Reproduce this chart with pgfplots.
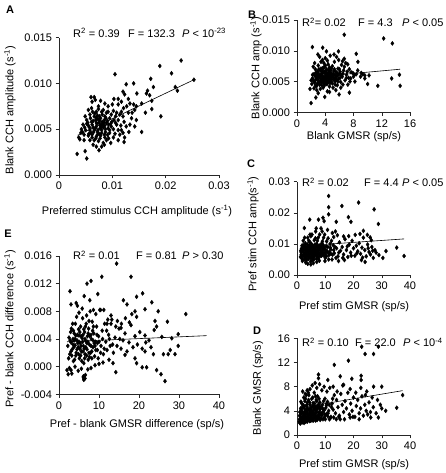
\documentclass[border=0pt]{standalone}
\usepackage{fontspec}
\setmainfont{Liberation Sans}
\usepackage{pgfplots}
\pgfplotsset{compat=1.18}
\pgfplotsset{
  panel/.style={
    scale only axis,
    axis lines=left,
    axis line style={-, black!85, line width=0.5pt},
    tick style={black!85, line width=0.5pt},
    tick align=outside,
    major tick length=3.5pt,
    scaled ticks=false,
    font=\fontsize{11}{13}\selectfont,
    ticklabel style={font=\fontsize{11}{13}\selectfont},
    /pgf/number format/assume math mode=true,
    clip=false,
  },
  pts/.style={only marks, mark=diamond*, mark size=2.05pt, black},
  fit/.style={no marks, black, line width=0.6pt},
}
\newcommand{\fs}{\fontsize{11}{13}\selectfont}
\begin{document}
\begin{tikzpicture}
\path[use as bounding box] (0pt,0pt) rectangle (445pt,473pt);

% ---------------- Panel A ----------------
\begin{axis}[panel, at={(59pt,298pt)}, anchor=south west,
  width=160pt, height=137.4pt,
  xmin=0, xmax=0.03, ymin=0, ymax=0.015,
  xtick={0,0.01,0.02,0.03}, xticklabels={0,0.01,0.02,0.03},
  ytick={0,0.005,0.01,0.015}, yticklabels={0.000,0.005,0.010,0.015}]
\addplot[pts] coordinates {
(0.0229,0.0125)(0.0189,0.0119)(0.0211,0.0111)(0.0105,0.0110)(0.0253,0.0104)
(0.0172,0.0105)(0.0140,0.0100)(0.0126,0.0099)(0.0177,0.0096)(0.0218,0.0096)
(0.0222,0.0092)(0.0166,0.0092)(0.0120,0.0091)(0.0146,0.0089)(0.0164,0.0089)
(0.0170,0.0087)(0.0174,0.0081)(0.0123,0.0088)(0.0111,0.0083)(0.0155,0.0078)
(0.0191,0.0064)(0.0155,0.0047)(0.0174,0.0072)(0.0162,0.0068)(0.0137,0.0068)
(0.0145,0.0075)(0.0133,0.0078)(0.0140,0.0077)(0.0130,0.0083)(0.0117,0.0080)
(0.0127,0.0075)(0.0121,0.0073)(0.0136,0.0062)(0.0145,0.0060)(0.0122,0.0058)
(0.0126,0.0053)(0.0123,0.0041)(0.0122,0.0036)(0.0133,0.0055)
(0.0060,0.0085)(0.0066,0.0085)(0.0068,0.0082)(0.0062,0.0080)(0.0078,0.0081)
(0.0086,0.0078)(0.0092,0.0075)(0.0100,0.0077)(0.0103,0.0083)(0.0111,0.0077)
(0.0074,0.0075)(0.0055,0.0071)(0.0061,0.0073)(0.0070,0.0069)(0.0083,0.0071)
(0.0092,0.0069)(0.0102,0.0070)(0.0108,0.0068)(0.0114,0.0066)
(0.0049,0.0064)(0.0058,0.0066)(0.0066,0.0064)(0.0072,0.0065)(0.0078,0.0062)
(0.0086,0.0064)(0.0095,0.0062)(0.0103,0.0060)(0.0111,0.0060)(0.0052,0.0060)
(0.0061,0.0058)(0.0069,0.0060)(0.0075,0.0057)(0.0081,0.0058)(0.0089,0.0057)
(0.0097,0.0056)(0.0108,0.0055)(0.0116,0.0054)(0.0045,0.0055)(0.0055,0.0054)
(0.0062,0.0055)(0.0070,0.0053)(0.0077,0.0054)(0.0083,0.0052)(0.0092,0.0051)
(0.0102,0.0050)(0.0111,0.0049)(0.0042,0.0050)(0.0050,0.0049)(0.0058,0.0049)
(0.0066,0.0049)(0.0072,0.0047)(0.0080,0.0049)(0.0087,0.0047)(0.0095,0.0046)
(0.0105,0.0045)(0.0114,0.0044)(0.0041,0.0046)(0.0047,0.0044)(0.0055,0.0043)
(0.0062,0.0044)(0.0070,0.0042)(0.0078,0.0043)(0.0086,0.0041)(0.0093,0.0040)
(0.0102,0.0041)(0.0037,0.0041)(0.0039,0.0039)(0.0058,0.0038)(0.0066,0.0038)
(0.0074,0.0037)(0.0083,0.0035)(0.0089,0.0038)(0.0064,0.0033)(0.0080,0.0031)
(0.0085,0.0033)(0.0075,0.0027)(0.0052,0.0018)(0.0049,0.0026)(0.0034,0.0023)
(0.0073,0.0061)(0.0079,0.0055)(0.0085,0.0060)(0.0077,0.0051)(0.0070,0.0057)
(0.0064,0.0052)(0.0086,0.0054)(0.0091,0.0059)(0.0098,0.0053)(0.0106,0.0057)
(0.0067,0.0067)(0.0080,0.0069)(0.0089,0.0068)(0.0054,0.0057)(0.0060,0.0046)
(0.0075,0.0045)(0.0091,0.0044)(0.0117,0.0049)(0.0120,0.0046)(0.0111,0.0038)
(0.0097,0.0035)(0.0070,0.0031)(0.0062,0.0041)(0.0047,0.0038)(0.0130,0.0068)
(0.0142,0.0071)(0.0117,0.0069)(0.0098,0.0066)(0.0106,0.0064)(0.0131,0.0047)
(0.0142,0.0053)(0.0120,0.0064)
(0.0071,0.0056)(0.0076,0.0059)(0.0082,0.0055)(0.0068,0.0051)(0.0073,0.0049)
(0.0079,0.0052)(0.0084,0.0057)(0.0088,0.0062)(0.0064,0.0059)(0.0059,0.0062)
(0.0070,0.0063)(0.0076,0.0064)(0.0081,0.0066)(0.0065,0.0047)(0.0072,0.0044)
(0.0080,0.0046)(0.0087,0.0050)(0.0093,0.0055)(0.0057,0.0052)(0.0052,0.0056)
(0.0048,0.0052)(0.0044,0.0047)(0.0056,0.0045)(0.0069,0.0040)(0.0077,0.0040)
(0.0085,0.0044)(0.0095,0.0049)(0.0099,0.0058)(0.0074,0.0072)(0.0063,0.0069)
};
\addplot[fit] coordinates {(0.0035,0.00434) (0.0253,0.0104)};
\end{axis}

% ---------------- Panel B ----------------
\begin{axis}[panel, at={(297pt,360.7pt)}, anchor=south west,
  width=113pt, height=92.3pt,
  xmin=0, xmax=16, ymin=0, ymax=0.015,
  xtick={0,4,8,12,16}, xticklabels={0,4,8,12,16},
  ytick={0,0.005,0.01,0.015}, yticklabels={0.000,0.005,0.010,0.015}]
\addplot[pts] coordinates {
(6.69,0.0126)(12.27,0.0120)(13.5,0.0112)(2.18,0.0106)(3.64,0.0105)(4.17,0.0099)
(5.87,0.0099)(5.24,0.0094)(2.96,0.0094)(8.39,0.0095)(6.69,0.0087)(6.45,0.0083)
(7.18,0.0078)(8.63,0.0082)(7.66,0.0065)(8.15,0.0061)(9.6,0.0060)(10.0,0.0046)
(11.44,0.0043)(13.4,0.0055)(14.5,0.0061)(14.6,0.0043)(1.99,0.0015)(2.67,0.0024)
(3.93,0.0025)(5.96,0.0029)(7.42,0.0032)(1.84,0.0038)
(2.2,0.0055)(2.4,0.0062)(2.5,0.0048)(2.6,0.0070)(2.7,0.0058)(2.8,0.0043)(2.9,0.0066)
(3.0,0.0052)(3.0,0.0076)(3.1,0.0060)(3.2,0.0045)(3.3,0.0068)(3.4,0.0055)(3.4,0.0082)
(3.5,0.0049)(3.6,0.0063)(3.7,0.0072)(3.7,0.0040)(3.8,0.0057)(3.9,0.0066)(4.0,0.0051)
(4.0,0.0088)(4.1,0.0061)(4.2,0.0046)(4.2,0.0070)(4.3,0.0056)(4.4,0.0078)(4.5,0.0050)
(4.5,0.0064)(4.6,0.0042)(4.7,0.0059)(4.8,0.0069)(4.9,0.0053)(5.0,0.0075)(5.0,0.0047)
(5.1,0.0062)(5.2,0.0056)(5.3,0.0082)(5.4,0.0050)(5.5,0.0066)(5.6,0.0058)(5.7,0.0044)
(5.8,0.0071)(5.9,0.0054)(6.0,0.0063)(6.2,0.0049)(6.3,0.0077)(6.4,0.0058)(6.6,0.0068)
(6.8,0.0052)(7.0,0.0061)(7.2,0.0045)(7.4,0.0070)(7.6,0.0055)(7.9,0.0064)(8.2,0.0050)
(8.6,0.0068)(9.0,0.0058)(9.3,0.0062)(2.3,0.0074)(2.5,0.0080)(2.6,0.0052)(2.8,0.0036)
(3.0,0.0064)(3.2,0.0090)(3.3,0.0038)(3.5,0.0059)(3.6,0.0085)(3.8,0.0047)(3.9,0.0074)
(4.1,0.0054)(4.3,0.0034)(4.4,0.0062)(4.6,0.0073)(4.7,0.0048)(4.8,0.0057)(5.1,0.0040)
(5.2,0.0067)(5.4,0.0060)(5.6,0.0090)(5.8,0.0050)(6.1,0.0056)(6.5,0.0045)(6.7,0.0074)
(7.1,0.0066)(7.5,0.0050)(8.0,0.0058)(2.1,0.0046)(2.4,0.0039)(2.7,0.0065)(3.1,0.0048)
(3.4,0.0071)(3.6,0.0053)(3.9,0.0044)(4.0,0.0059)(4.2,0.0065)(4.5,0.0055)(4.9,0.0061)
(5.3,0.0052)(5.7,0.0063)(6.0,0.0070)(6.3,0.0060)(3.3,0.0061)(3.7,0.0057)(4.4,0.0051)
(4.8,0.0064)(5.5,0.0056)(2.9,0.0057)(3.5,0.0067)(4.1,0.0068)(4.6,0.0060)(5.0,0.0058)
(2.2,0.0061)(3.8,0.0080)(4.3,0.0084)(4.7,0.0092)(5.9,0.0085)(6.9,0.0080)(7.3,0.0056)
(8.4,0.0062)(9.1,0.0064)(9.6,0.0055)(10.2,0.0060)(2.0,0.0052)(6.2,0.0040)(5.5,0.0036)
(3.0,0.0031)(4.6,0.0033)
(3.2,0.0058)(3.5,0.0062)(3.9,0.0055)(4.2,0.0059)(4.6,0.0066)(3.1,0.0070)(3.6,0.0071)
(4.0,0.0064)(4.4,0.0057)(4.8,0.0050)(3.3,0.0050)(2.7,0.0054)(2.5,0.0060)(3.8,0.0051)
(4.3,0.0047)(5.2,0.0062)(5.6,0.0053)(6.1,0.0066)(2.9,0.0047)(3.5,0.0044)(4.0,0.0076)
(4.9,0.0072)(5.3,0.0070)(2.3,0.0051)(2.6,0.0043)(3.7,0.0066)(4.5,0.0069)(5.8,0.0060)
(6.5,0.0063)(7.0,0.0056)(3.0,0.0058)(4.1,0.0049)(5.4,0.0045)(2.8,0.0062)(3.4,0.0053)
(4.7,0.0054)
};
\addplot[fit] coordinates {(2.0,0.00569) (14.6,0.0070)};
\end{axis}

% ---------------- Panel C ----------------
\begin{axis}[panel, at={(297pt,198pt)}, anchor=south west,
  width=113pt, height=93.3pt,
  xmin=0, xmax=40, ymin=0, ymax=0.03,
  xtick={0,10,20,30,40}, xticklabels={0,10,20,30,40},
  ytick={0,0.01,0.02,0.03}, yticklabels={0.00,0.01,0.02,0.03}]
\addplot[pts] coordinates {
(11.2,0.0254)(11.2,0.0218)(11.2,0.0195)(21.8,0.0233)(15.9,0.0222)(27.3,0.0211)
(18.2,0.0186)(19.1,0.0171)(13.9,0.0171)(28.8,0.0164)(4.5,0.0178)(2.6,0.0151)
(7.6,0.0178)(9.2,0.0184)(9.6,0.0173)(23.5,0.0142)(24.9,0.0129)(25.9,0.0121)
(20.6,0.0129)(16.5,0.0124)(31.5,0.0077)(35.3,0.0088)(37.9,0.0061)(30.4,0.0055)
(27.6,0.0080)(24.1,0.0042)(14.7,0.0045)(4.9,0.0034)
(1.5,0.0072)(1.8,0.0095)(2.0,0.0060)(2.2,0.0110)(2.4,0.0082)(2.6,0.0050)(2.8,0.0068)
(3.0,0.0102)(3.1,0.0040)(3.3,0.0088)(3.5,0.0075)(3.6,0.0060)(3.8,0.0120)(4.0,0.0092)
(4.1,0.0052)(4.3,0.0080)(4.5,0.0068)(4.6,0.0105)(4.8,0.0043)(5.0,0.0086)(5.2,0.0072)
(5.3,0.0130)(5.5,0.0061)(5.6,0.0095)(5.8,0.0078)(6.0,0.0050)(6.1,0.0112)(6.3,0.0085)
(6.5,0.0066)(6.6,0.0140)(6.8,0.0074)(7.0,0.0100)(7.1,0.0057)(7.3,0.0089)(7.5,0.0120)
(7.7,0.0068)(7.9,0.0046)(8.1,0.0095)(8.3,0.0079)(8.5,0.0150)(8.7,0.0062)(9.0,0.0108)
(9.2,0.0084)(9.5,0.0072)(9.8,0.0130)(10.0,0.0055)(10.3,0.0092)(10.6,0.0077)(11.0,0.0118)
(11.3,0.0064)(11.7,0.0100)(12.0,0.0082)(12.4,0.0050)(12.8,0.0096)(13.2,0.0070)
(13.6,0.0140)(14.0,0.0086)(14.5,0.0060)(15.0,0.0105)(15.4,0.0078)(16.0,0.0090)
(16.5,0.0066)(17.0,0.0115)(17.5,0.0080)(18.0,0.0058)(18.5,0.0098)(19.0,0.0072)
(19.5,0.0110)(20.0,0.0086)(20.5,0.0062)(21.0,0.0094)(21.5,0.0076)(22.0,0.0102)
(22.5,0.0068)(23.0,0.0088)(23.5,0.0120)(24.0,0.0080)(24.5,0.0060)(25.0,0.0098)
(25.5,0.0074)(26.0,0.0066)(26.5,0.0090)(27.0,0.0055)(28.0,0.0072)(29.0,0.0064)
(1.2,0.0058)(1.6,0.0085)(2.1,0.0078)(2.5,0.0095)(2.9,0.0058)(3.2,0.0072)(3.4,0.0048)
(3.7,0.0098)(3.9,0.0066)(4.2,0.0110)(4.4,0.0058)(4.7,0.0090)(4.9,0.0076)(5.1,0.0100)
(5.4,0.0048)(5.7,0.0070)(5.9,0.0088)(6.2,0.0062)(6.4,0.0098)(6.7,0.0080)(6.9,0.0052)
(7.2,0.0110)(7.4,0.0076)(7.6,0.0092)(7.8,0.0060)(8.0,0.0130)(8.2,0.0070)(8.4,0.0088)
(8.8,0.0102)(9.1,0.0066)(9.4,0.0120)(9.7,0.0082)(10.1,0.0070)(10.5,0.0108)(10.9,0.0090)
(11.5,0.0074)(12.2,0.0110)(12.6,0.0065)(13.0,0.0122)(13.4,0.0090)(2.3,0.0066)
(2.7,0.0120)(3.6,0.0084)(4.9,0.0125)(5.6,0.0066)(6.5,0.0118)(7.5,0.0082)(8.6,0.0075)
(9.3,0.0095)(10.4,0.0060)(11.8,0.0088)(14.8,0.0072)(16.2,0.0055)(17.8,0.0092)
(19.2,0.0062)(21.2,0.0070)(23.2,0.0056)(25.2,0.0086)(26.8,0.0078)(1.9,0.0045)
(3.8,0.0036)(5.8,0.0038)(7.0,0.0042)(9.9,0.0045)(11.2,0.0050)(13.8,0.0055)
(16.8,0.0048)(22.8,0.0048)(4.6,0.0130)(6.8,0.0150)(8.9,0.0140)(10.8,0.0145)
(12.5,0.0135)(14.3,0.0128)(18.3,0.0125)(22.3,0.0132)(26.3,0.0112)
(2.0,0.0085)(2.5,0.0072)(3.0,0.0080)(3.5,0.0065)(4.0,0.0075)(4.5,0.0082)(5.0,0.0065)
(5.5,0.0078)(6.0,0.0088)(6.5,0.0072)(7.0,0.0064)(7.5,0.0072)(8.0,0.0085)(8.5,0.0068)
(9.0,0.0078)(9.5,0.0088)(1.5,0.0065)(2.2,0.0095)(2.8,0.0090)(3.3,0.0058)(3.9,0.0078)
(4.4,0.0095)(5.2,0.0090)(5.9,0.0058)(6.3,0.0076)(6.9,0.0092)(7.3,0.0070)(8.6,0.0092)
(9.6,0.0062)(10.2,0.0080)(1.3,0.0078)(1.8,0.0052)(2.6,0.0060)(3.2,0.0052)(4.1,0.0062)
(4.8,0.0056)(5.3,0.0055)(6.1,0.0068)(7.6,0.0052)(8.2,0.0062)(11.0,0.0072)(12.0,0.0068)
(13.0,0.0080)
};
\addplot[fit] coordinates {(1.0,0.0093) (37.9,0.0116)};
\end{axis}

% ---------------- Panel D ----------------
\begin{axis}[panel, at={(297pt,38pt)}, anchor=south west,
  width=113pt, height=96.7pt,
  xmin=0, xmax=40, ymin=0, ymax=16,
  xtick={0,10,20,30,40}, xticklabels={0,10,20,30,40},
  ytick={0,4,8,12,16}, yticklabels={0,4,8,12,16}]
\addplot[pts] coordinates {
(22.9,14.6)(24.1,13.4)(27.1,13.4)(28.8,14.6)(18.2,12.3)(13.2,11.6)(7.6,10.0)(7.6,9.4)
(22.7,9.8)(22.7,9.1)(19.4,9.3)(15.3,9.7)(10.9,9.1)(16.5,8.3)(27.1,8.0)(30,8.0)
(24.7,7.2)(37.4,6.6)(35.3,4.5)(31.4,4.0)(28.8,2.9)(26.1,2.9)(18.8,2.9)(15.3,2.6)
(13.9,2.6)(7.1,2.5)
(1.0,2.0)(1.2,3.0)(1.4,2.4)(1.5,4.2)(1.7,2.8)(1.8,3.6)(2.0,2.1)(2.1,5.0)(2.3,3.2)
(2.4,2.6)(2.6,4.4)(2.7,3.8)(2.9,2.2)(3.0,6.0)(3.1,3.0)(3.3,4.8)(3.4,2.5)(3.6,3.6)
(3.7,5.4)(3.9,2.8)(4.0,4.1)(4.2,6.6)(4.3,3.3)(4.5,2.3)(4.6,5.0)(4.8,3.9)(4.9,2.9)
(5.1,4.5)(5.2,6.0)(5.4,3.4)(5.5,2.6)(5.7,5.3)(5.8,4.0)(6.0,3.0)(6.1,7.0)(6.3,4.6)
(6.4,3.6)(6.6,2.4)(6.8,5.8)(6.9,4.2)(7.1,3.2)(7.3,6.4)(7.5,4.9)(7.7,3.7)(7.9,2.8)
(8.1,5.4)(8.3,4.3)(8.6,3.4)(8.8,7.4)(9.0,5.0)(9.3,3.9)(9.6,2.9)(9.9,6.0)(10.2,4.5)
(10.5,3.5)(10.8,5.5)(11.2,4.0)(11.6,7.8)(12.0,3.0)(12.4,5.2)(12.8,4.2)(13.2,6.6)
(13.6,3.6)(14.0,5.8)(14.5,4.6)(15.0,3.2)(15.5,6.8)(16.0,5.0)(16.5,3.8)(17.0,5.6)
(17.5,4.4)(18.0,7.0)(18.5,3.4)(19.0,5.2)(19.5,4.0)(20.0,6.2)(20.5,3.0)(21.0,4.8)
(21.5,5.8)(22.0,3.6)(22.5,4.4)(23.0,6.4)(23.5,3.2)(24.0,5.0)(24.5,4.0)(25.0,3.4)
(25.5,5.4)(26.0,3.8)(27.0,4.6)(28.0,3.6)(29.5,5.0)
(1.1,2.6)(1.3,3.5)(1.6,2.2)(1.9,4.6)(2.2,2.9)(2.5,3.5)(2.8,5.6)(3.2,2.3)(3.5,4.2)
(3.8,3.2)(4.1,5.8)(4.4,2.7)(4.7,4.4)(5.0,3.6)(5.3,2.4)(5.6,4.8)(5.9,3.3)(6.2,5.2)
(6.5,2.9)(6.7,4.0)(7.0,5.6)(7.2,2.6)(7.4,4.4)(7.6,3.1)(7.8,6.0)(8.0,3.8)(8.2,2.5)
(8.5,4.7)(8.7,3.2)(9.1,4.4)(9.4,5.6)(9.8,3.4)(10.0,2.6)(10.4,4.9)(10.9,3.1)(11.4,5.0)
(11.8,2.8)(12.2,4.6)(12.6,6.0)(13.0,2.9)(2.0,7.2)(2.9,6.8)(3.6,7.4)(4.6,7.6)(5.4,8.2)
(6.4,8.6)(7.0,7.8)(8.0,8.4)(9.6,8.0)(10.6,7.2)(12.8,8.0)(14.2,7.2)(16.2,8.2)(18.8,7.6)
(20.8,7.0)(22.6,7.8)(24.2,6.6)(26.6,6.2)(28.5,5.8)(30.0,4.4)(1.4,5.5)(2.4,6.2)(3.3,6.6)
(4.0,7.0)(14.8,3.0)(16.8,2.6)(19.8,3.0)(22.0,2.6)
(0.8,2.2)(0.9,3.2)(1.2,1.9)(1.5,2.6)(1.8,3.0)(2.0,3.8)(2.2,2.4)(2.5,2.0)(2.6,3.0)
(2.8,2.6)(3.0,3.4)(3.0,4.0)(3.2,2.8)(3.4,3.8)(3.6,2.2)(3.8,4.4)(4.0,3.0)(4.2,2.5)
(4.4,3.6)(4.6,4.2)(4.8,2.4)(5.0,3.2)(5.2,4.0)(5.4,2.8)(5.6,3.8)(5.8,2.4)(6.0,4.3)
(6.2,3.4)(6.4,2.7)(6.6,4.6)(6.8,3.0)(7.0,3.8)(7.2,4.8)(7.4,2.8)(7.6,5.0)(7.8,3.4)
(8.0,4.5)(8.4,2.7)(8.8,3.6)(9.2,2.6)(9.6,4.1)(10.0,3.3)(10.5,5.2)(11.0,3.6)(11.5,2.6)
(1.3,4.4)(2.4,4.8)(3.5,5.0)(4.5,5.4)(5.6,6.2)(6.6,6.4)(1.7,5.2)(0.9,2.6)(1.0,3.8)
};
\addplot[fit] coordinates {(1.0,4.5) (37.4,7.34)};
\end{axis}

% ---------------- Panel E ----------------
\begin{axis}[panel, at={(59pt,78.7pt)}, anchor=south west,
  width=160pt, height=138.3pt,
  xmin=0, xmax=40, ymin=-0.004, ymax=0.016,
  xtick={0,10,20,30,40}, xticklabels={0,10,20,30,40},
  ytick={-0.004,0,0.004,0.008,0.012,0.016},
  yticklabels={-0.004,0.000,0.004,0.008,0.012,0.016}]
\addplot[pts] coordinates {
(14.4,0.0149)(18.0,0.0130)(10.7,0.0130)(8.0,0.0124)(2.75,0.0109)(9.7,0.0105)
(20.9,0.0106)(19.4,0.0101)(16.1,0.0096)(19.0,0.0080)(19.4,0.0072)(21.5,0.0083)
(23.2,0.0093)(24.8,0.0080)(31.7,0.0076)(24.0,0.0066)(27.1,0.0065)(24.4,0.0058)
(23.8,0.0053)(29.8,0.0047)(25.7,0.0043)(28.2,0.0041)(29.8,0.0030)(27.8,0.0024)
(27.3,0.0018)(29.0,0.0018)(26.1,0.0018)(23.6,0.0018)(21.7,0.0035)(21.5,0.0022)
(19.4,0.0005)(20.8,-0.0001)(21.9,-0.0001)(24.4,-0.0005)(25.5,-0.0011)(26.5,-0.0021)
(14.2,-0.0008)(19.0,0.0012)(16.5,0.0017)(2.3,-0.0011)(3.0,-0.0005)(6.1,-0.0014)
(6.2,-0.0019)(6.5,-0.0017)(17.0,0.0090)(18.2,0.0076)(12.0,0.0062)(13.0,0.0074)
(15.5,0.0056)
(2.2,0.0030)(2.5,0.0042)(2.7,0.0018)(3.0,0.0035)(3.1,0.0055)(3.3,0.0025)(3.5,0.0040)
(3.6,0.0008)(3.8,0.0048)(4.0,0.0031)(4.1,0.0062)(4.3,0.0020)(4.5,0.0038)(4.6,0.0088)
(4.8,0.0028)(5.0,0.0045)(5.1,0.0012)(5.3,0.0034)(5.4,0.0058)(5.6,0.0022)(5.8,0.0041)
(5.9,0.0070)(6.1,0.0030)(6.2,0.0005)(6.4,0.0050)(6.5,0.0018)(6.7,0.0037)(6.8,0.0062)
(7.0,0.0025)(7.1,0.0044)(7.3,0.0010)(7.4,0.0055)(7.6,0.0032)(7.8,0.0080)(7.9,0.0020)
(8.1,0.0040)(8.3,0.0065)(8.5,0.0028)(8.7,0.0048)(8.9,0.0015)(9.1,0.0036)(9.4,0.0058)
(9.6,0.0024)(9.9,0.0044)(10.2,0.0082)(10.5,0.0030)(10.8,0.0052)(11.1,0.0018)
(11.4,0.0062)(11.7,0.0036)(12.0,0.0024)(12.4,0.0046)(12.8,0.0030)(13.2,0.0068)
(13.6,0.0020)(14.0,0.0042)(14.5,0.0030)(15.0,0.0055)(15.5,0.0026)(16.0,0.0038)
(16.5,0.0048)(17.0,0.0022)(17.5,0.0035)(18.0,0.0060)(18.5,0.0028)(19.0,0.0044)
(19.6,0.0032)(20.2,0.0050)(20.8,0.0026)(21.5,0.0045)(22.5,0.0038)(23.0,0.0028)
(2.4,0.0012)(2.9,0.0050)(3.2,0.0016)(3.4,0.0062)(3.7,0.0028)(3.9,0.0010)(4.2,0.0045)
(4.4,0.0072)(4.7,0.0034)(4.9,0.0018)(5.2,0.0050)(5.5,0.0030)(5.7,0.0008)(6.0,0.0046)
(6.3,0.0026)(6.6,0.0058)(6.9,0.0016)(7.2,0.0036)(7.5,0.0066)(7.7,0.0044)(8.0,0.0030)
(8.2,0.0012)(8.4,0.0052)(8.8,0.0034)(9.2,0.0024)(9.5,0.0046)(9.8,0.0012)(10.0,0.0036)
(10.4,0.0020)(10.9,0.0040)(11.3,0.0026)(11.9,0.0052)(12.6,0.0040)(13.4,0.0032)
(14.2,0.0058)(15.2,0.0040)(2.0,-0.0005)(2.6,-0.0002)(3.2,-0.0010)(4.0,0.0000)
(4.8,-0.0006)(5.6,-0.0003)(6.1,-0.0016)(6.3,-0.0018)(6.6,-0.0012)(7.2,-0.0004)
(8.0,-0.0002)(9.0,0.0002)(10.0,0.0004)(11.0,0.0006)(12.5,0.0010)(13.5,0.0005)
(3.0,0.0090)(4.3,0.0092)(5.0,0.0078)(5.8,0.0084)(6.9,0.0074)(7.7,0.0096)(8.6,0.0082)
(9.2,0.0076)(10.4,0.0082)(11.2,0.0082)(12.2,0.0068)(13.0,0.0062)(14.6,0.0066)
(15.6,0.0062)(16.6,0.0070)(17.6,0.0064)(6.3,0.0102)(7.0,0.0120)
(3.5,0.0032)(4.0,0.0040)(4.5,0.0025)(5.0,0.0036)(5.5,0.0044)(6.0,0.0022)(6.5,0.0040)
(7.0,0.0034)(7.5,0.0020)(8.0,0.0046)(8.5,0.0038)(9.0,0.0030)(3.0,0.0022)(3.8,0.0038)
(4.6,0.0046)(5.2,0.0026)(5.9,0.0036)(6.7,0.0028)(7.3,0.0048)(8.2,0.0022)(4.2,0.0016)
(5.4,0.0016)(6.4,0.0012)(7.6,0.0014)(3.6,0.0052)(4.9,0.0054)(6.2,0.0054)(8.6,0.0058)
(2.8,0.0038)(9.6,0.0034)
};
\addplot[fit] coordinates {(2.0,0.0036) (36.9,0.00448)};
\end{axis}

% ---------------- texts ----------------
\begin{scope}[every node/.style={font=\fs, inner sep=0pt}]
% panel letters
\node[font=\fs\bfseries] at (10pt,463.5pt) {A};
\node[font=\fs\bfseries] at (252pt,458pt) {B};
\node[font=\fs\bfseries] at (251pt,309pt) {C};
\node[font=\fs\bfseries] at (257pt,142pt) {D};
\node[font=\fs\bfseries] at (8pt,239pt) {E};
% statistics
\node[anchor=base west] at (73pt,435.5pt) {R\textsuperscript{2} = 0.39};
\node[anchor=base west] at (128pt,435.5pt) {F = 132.3};
\node[anchor=base west] at (182pt,435.5pt) {\textit{P} < 10\textsuperscript{-23}};
\node[anchor=base west] at (302pt,446pt) {R\textsuperscript{2}= 0.02};
\node[anchor=base west] at (358pt,446pt) {F = 4.3};
\node[anchor=base west] at (402pt,446pt) {\textit{P} < 0.05};
\node[anchor=base west] at (302pt,286pt) {R\textsuperscript{2} = 0.02};
\node[anchor=base west] at (364pt,286pt) {F = 4.4};
\node[anchor=base west] at (402pt,286pt) {\textit{P} < 0.05};
\node[anchor=base west] at (302pt,126pt) {R\textsuperscript{2} = 0.10};
\node[anchor=base west] at (355pt,126pt) {F = 22.0};
\node[anchor=base west] at (403pt,126pt) {\textit{P} < 10\textsuperscript{-4}};
\node[anchor=base west] at (73pt,213pt) {R\textsuperscript{2} = 0.01};
\node[anchor=base west] at (136pt,213pt) {F = 0.81};
\node[anchor=base west] at (182pt,213pt) {\textit{P} > 0.30};
% x labels
\node at (137pt,262pt) {Preferred stimulus CCH amplitude (s\textsuperscript{-1})};
\node at (354pt,336pt) {Blank GMSR (sp/s)};
\node at (354pt,166pt) {Pref stim GMSR (sp/s)};
\node at (354pt,8pt) {Pref stim GMSR (sp/s)};
\node at (137pt,48pt) {Pref - blank GMSR difference (sp/s)};
% y labels
\node[rotate=90] at (10pt,363pt) {Blank CCH amplitude (s\textsuperscript{-1})};
\node[rotate=90] at (256pt,405pt) {Blank CCH amp (s\textsuperscript{-1})};
\node[rotate=90] at (253pt,239pt) {Pref stim CCH amp(s\textsuperscript{-1})};
\node[rotate=90] at (258pt,85pt) {Blank GMSR (sp/s)};
\node[rotate=90] at (10pt,144pt) {Pref - blank CCH difference (s\textsuperscript{-1})};
\end{scope}
\end{tikzpicture}
\end{document}
